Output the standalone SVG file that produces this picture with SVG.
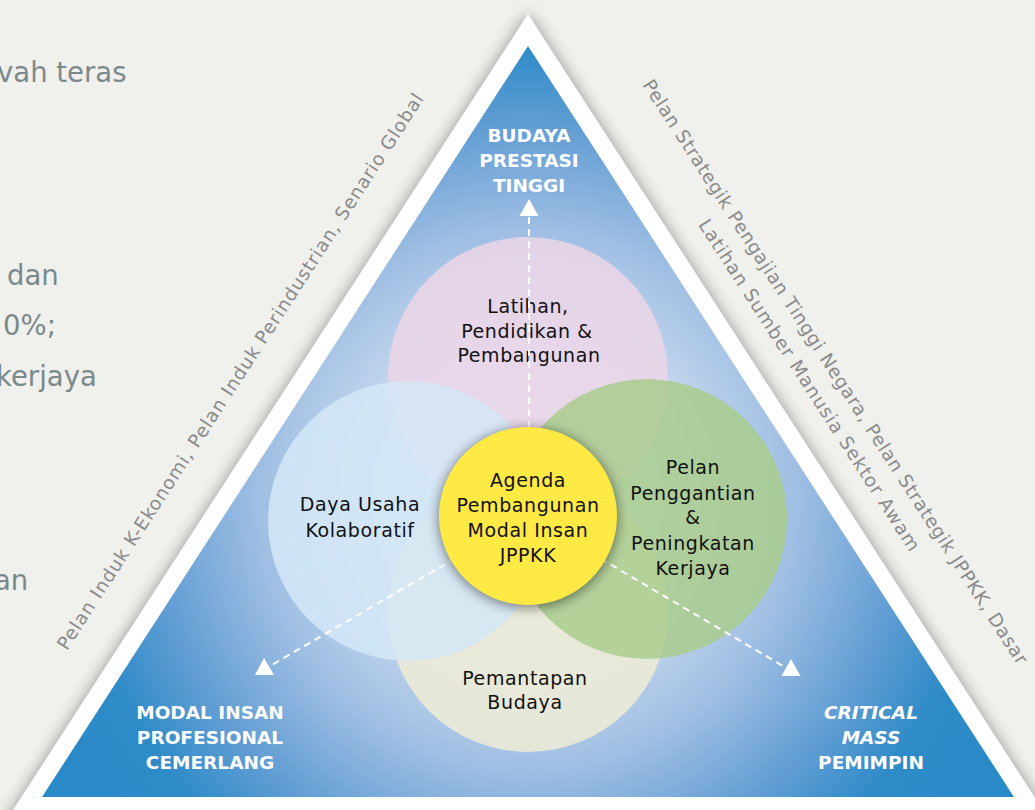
<svg xmlns="http://www.w3.org/2000/svg" width="1035" height="810" viewBox="0 0 1035 810">
<defs>
<style>
.bg{font-family:"DejaVu Sans",sans-serif;font-size:27.5px;fill:#7a898b}
.side{font-family:"DejaVu Sans",sans-serif;font-size:18.5px;fill:#8a8a8a;text-anchor:middle}
.lbl{font-family:"DejaVu Sans",sans-serif;font-size:19px;letter-spacing:0.6px;fill:#111;text-anchor:middle}
.corner{font-family:"DejaVu Sans",sans-serif;font-size:18.5px;font-weight:bold;fill:#fff;text-anchor:middle}
.it{font-style:italic}
.dash{stroke:#fff;stroke-width:2;stroke-dasharray:7 5;fill:none}
.head{fill:#fff}
.c{opacity:0.85}
</style>
<radialGradient id="tri" gradientUnits="userSpaceOnUse" cx="528" cy="500" r="520">
<stop offset="0" stop-color="#e8eef7"/>
<stop offset="0.35" stop-color="#c2d5ec"/>
<stop offset="0.52" stop-color="#9fbee3"/>
<stop offset="0.73" stop-color="#5e9cd3"/>
<stop offset="0.87" stop-color="#2e8bc8"/>
<stop offset="1" stop-color="#2a8ac7"/>
</radialGradient>
<filter id="blur" x="-20%" y="-20%" width="140%" height="140%"><feGaussianBlur stdDeviation="8"/></filter>
<filter id="ysh" x="-30%" y="-30%" width="160%" height="160%"><feGaussianBlur stdDeviation="6"/></filter>
</defs>
<rect width="1035" height="810" fill="#f0f0ec"/>
<g id="background-text">
<text class="bg" x="-3" y="82">vah teras</text>
<text class="bg" x="7" y="285">dan</text>
<text class="bg" x="3" y="335">0%;</text>
<text class="bg" x="-4" y="386">kerjaya</text>
<text class="bg" x="-6" y="590">an</text>
</g>
<g id="frame">
<polygon points="528,14 -6,840 1062,840" fill="#000" opacity="0.4" filter="url(#blur)"/>
<polygon points="528,14 0,830 1056,830" fill="#fff"/>
<polygon points="528,46 42,797 1014,797" fill="url(#tri)"/>
</g>
<g id="side-labels">
<text class="side" transform="translate(245.6,375) rotate(-57.1)" textLength="658">Pelan Induk K-Ekonomi, Pelan Induk Perindustrian, Senario Global</text>
<text class="side" transform="translate(829.9,375.3) rotate(57.1)" textLength="692">Pelan Strategik Pengajian Tinggi Negara, Pelan Strategik JPPKK, Dasar</text>
<text class="side" transform="translate(829.9,375.3) rotate(57.1)" x="-3" y="29" textLength="391">Latihan Sumber Manusia Sektor Awam</text>
</g>
<g id="node-latihan">
<circle class="c" cx="528" cy="377" r="140" fill="#ecd6e7"/>
<text class="lbl" x="528" y="313">Latihan,</text>
<text class="lbl" x="527" y="338">Pendidikan &amp;</text>
<text class="lbl" x="529" y="362">Pembangunan</text>
</g>
<g id="node-budaya">
<circle class="c" cx="528" cy="612" r="140" fill="#eeecd6"/>
<text class="lbl" x="525" y="685">Pemantapan</text>
<text class="lbl" x="525" y="709">Budaya</text>
</g>
<g id="node-daya">
<circle class="c" cx="408" cy="521" r="140" fill="#d4e8f7"/>
<text class="lbl" x="360" y="511">Daya Usaha</text>
<text class="lbl" x="360" y="537">Kolaboratif</text>
</g>
<g id="node-pelan">
<circle class="c" cx="647" cy="519" r="140" fill="#a9cd8d"/>
<text class="lbl" x="693" y="474">Pelan</text>
<text class="lbl" x="693" y="500">Penggantian</text>
<text class="lbl" x="693" y="524">&amp;</text>
<text class="lbl" x="693" y="550">Peningkatan</text>
<text class="lbl" x="693" y="575">Kerjaya</text>
</g>
<g id="connectors">
<line class="dash" x1="529" y1="440" x2="529" y2="216"/>
<line class="dash" x1="528" y1="516" x2="270" y2="666"/>
<line class="dash" x1="528" y1="516" x2="783" y2="666"/>
<polygon class="head" points="529,199 519.5,216 538.5,216"/>
<polygon class="head" points="264,658 255,675 274,675"/>
<polygon class="head" points="791,659 781.5,676 800.5,676"/>
</g>
<g id="node-agenda">
<circle cx="528" cy="518" r="90" fill="#000" opacity="0.45" filter="url(#ysh)"/>
<circle cx="528" cy="516" r="89" fill="#ffe944"/>
<text class="lbl" x="528" y="487">Agenda</text>
<text class="lbl" x="528" y="512">Pembangunan</text>
<text class="lbl" x="528" y="537">Modal Insan</text>
<text class="lbl" x="528" y="562">JPPKK</text>
</g>
<g id="label-top">
<text class="corner" x="529" y="142">BUDAYA</text>
<text class="corner" x="529" y="167">PRESTASI</text>
<text class="corner" x="529" y="192">TINGGI</text>
</g>
<g id="label-left">
<text class="corner" x="210" y="719">MODAL INSAN</text>
<text class="corner" x="210" y="744">PROFESIONAL</text>
<text class="corner" x="210" y="769">CEMERLANG</text>
</g>
<g id="label-right">
<text class="corner it" x="871" y="719">CRITICAL</text>
<text class="corner it" x="871" y="744">MASS</text>
<text class="corner" x="871" y="769">PEMIMPIN</text>
</g>
</svg>
